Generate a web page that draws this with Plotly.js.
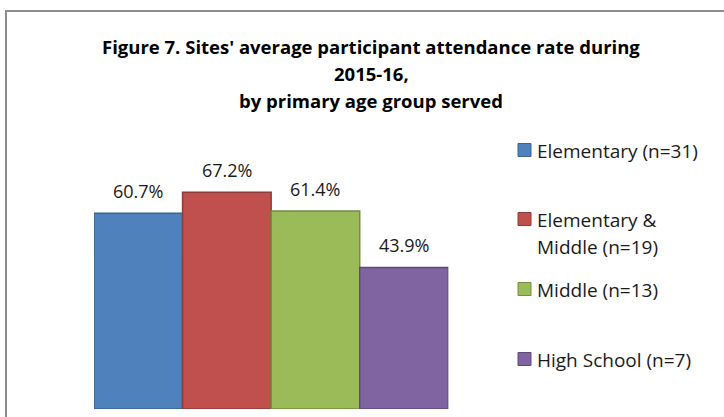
<!DOCTYPE html>
<html>
<head>
<meta charset="utf-8">
<script src="https://cdn.plot.ly/plotly-3.0.1.min.js"></script>
<style>html,body{margin:0;padding:0;background:#fff;}#chart{width:724px;height:417px;}</style>
</head>
<body>
<div id="chart"></div>
<script>
// Data
const categories = ["Elementary (n=31)", "Elementary &\nMiddle (n=19)", "Middle (n=13)", "High School (n=7)"];
const values = [60.7, 67.2, 61.4, 43.9];
const valueLabels = ["60.7%", "67.2%", "61.4%", "43.9%"];
const fillColors = ["#4F81BD", "#C0504D", "#9BBB59", "#8064A2"];
const lineColors = ["#3A6391", "#8E3B39", "#748C43", "#5E4A79"];
const titleLines = ["Figure 7. Sites' average participant attendance rate during", "2015-16,", "by primary age group served"];

const W = 724, H = 417;
const FONT = "'Open Sans', Lato, sans-serif";
const px = v => v / W;
const py = v => 1 - v / H;

const traces = categories.map((c, i) => ({
  type: "bar",
  x: [c],
  y: [values[i]],
  name: c,
  marker: { color: fillColors[i], line: { color: lineColors[i], width: 1.5 } },
  hoverinfo: "none",
  showlegend: false
}));

const annotations = [];
// value labels
categories.forEach((c, i) => {
  annotations.push({
    xref: "x", yref: "y", x: c, y: values[i],
    text: valueLabels[i], showarrow: false,
    xanchor: "center", yanchor: "bottom", yshift: 8,
    font: { family: FONT, size: 18, color: "#1a1a1a" }
  });
});
// title lines
const titleCenters = [47, 73, 100];
titleLines.forEach((t, i) => {
  annotations.push({
    xref: "paper", yref: "paper", x: px(371), y: py(titleCenters[i]),
    text: "<b>" + t + "</b>", showarrow: false,
    xanchor: "center", yanchor: "middle",
    font: { family: FONT, size: 18.5, color: "#000" }
  });
});
// custom legend
const legendCenters = [150, 219, 289, 359];
const shapes = [];
categories.forEach((c, i) => {
  const yc = legendCenters[i];
  shapes.push({
    type: "rect", xref: "paper", yref: "paper",
    x0: px(518), x1: px(531), y0: py(yc + 6.5), y1: py(yc - 6.5),
    fillcolor: fillColors[i], line: { color: lineColors[i], width: 1 }
  });
  c.split("\n").forEach((line, j) => {
    annotations.push({
      xref: "paper", yref: "paper", x: px(535), y: py(yc + 1 + j * 27),
      text: line, showarrow: false, xanchor: "left", yanchor: "middle",
      font: { family: FONT, size: 19, color: "#1a1a1a" }
    });
  });
});
// outer border
shapes.push({
  type: "rect", xref: "paper", yref: "paper",
  x0: px(6), x1: px(760), y0: py(440), y1: py(11),
  fillcolor: "rgba(0,0,0,0)", line: { color: "#8c8c8c", width: 2 }, layer: "below"
});

const layout = {
  width: W, height: H,
  margin: { l: 0, r: 0, t: 0, b: 0 },
  paper_bgcolor: "#fff", plot_bgcolor: "rgba(0,0,0,0)",
  barmode: "overlay", bargap: 0,
  showlegend: false,
  xaxis: { domain: [px(94), px(448.3)], showticklabels: false, showgrid: false, zeroline: false, showline: false, ticks: "", fixedrange: true },
  yaxis: { domain: [8 / H, 1 - 151 / H], range: [0, 80], visible: false, fixedrange: true },
  annotations: annotations,
  shapes: shapes
};

Plotly.newPlot("chart", traces, layout, { displayModeBar: false, staticPlot: true });
</script>
</body>
</html>
